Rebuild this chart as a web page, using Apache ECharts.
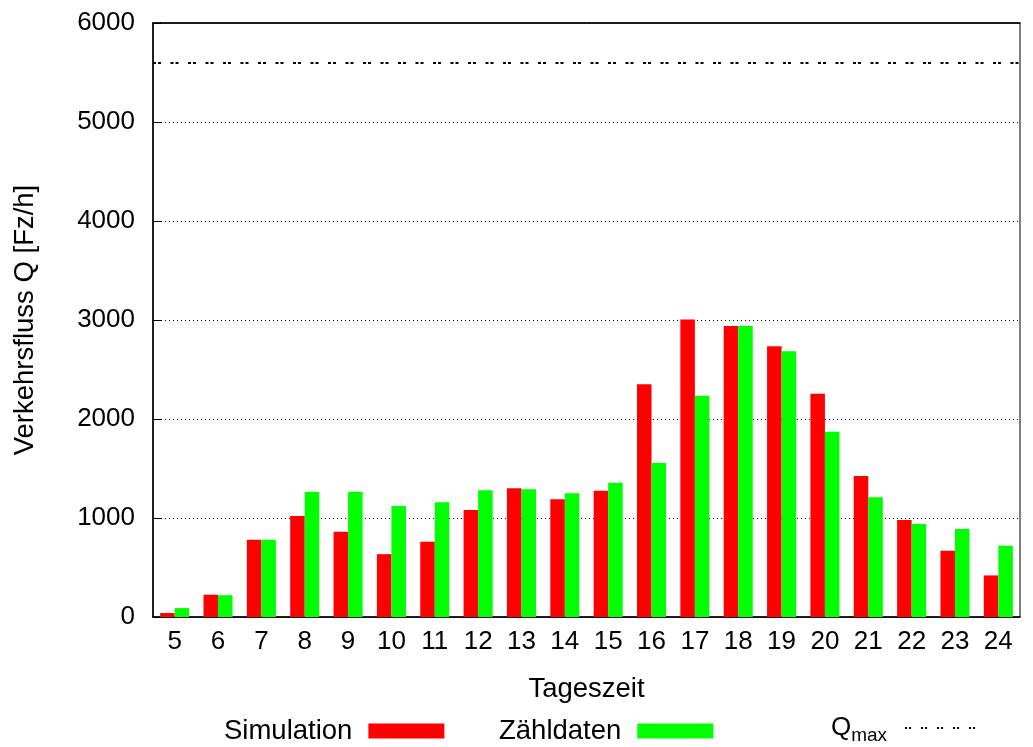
<!DOCTYPE html>
<html>
<head>
<meta charset="utf-8">
<script src="https://cdn.jsdelivr.net/npm/echarts@6/dist/echarts.min.js"></script>
<style>
  html, body { margin: 0; padding: 0; background: #fff; }
  #chart { width: 1033px; height: 747px; }
</style>
</head>
<body>
<div id="chart"></div>
<script>
// Tageszeit (Stunde)
const hours = ['5', '6', '7', '8', '9', '10', '11', '12', '13', '14',
  '15', '16', '17', '18', '19', '20', '21', '22', '23', '24']
const simulation = [40, 225, 780, 1020, 860, 635, 760, 1080, 1300, 1190,
  1275, 2350, 3005, 2940, 2735, 2255, 1425, 980, 670, 420]
const zaehldaten = [90, 220, 780, 1265, 1265, 1120, 1160, 1280, 1290, 1250,
  1355, 1555, 2235, 2940, 2685, 1870, 1210, 940, 890, 720]
const qmax = 5600

const font = 'Liberation Sans, Arial, sans-serif'
const fs = 26      // Zahlen
const fsText = 27.5 // Beschriftungen
const chart = echarts.init(document.getElementById('chart'))

const legendBase = {
  orient: 'horizontal',
  align: 'right',
  top: 717,
  padding: 0,
  itemWidth: 76,
  itemHeight: 15,
  textStyle: { fontFamily: font, fontSize: fsText, color: '#000', padding: [0, 11, 0, 0] },
  selectedMode: false
}

const option = {
  animation: false,
  backgroundColor: '#fff',
  grid: {
    left: 153, right: 13, top: 23, bottom: 130,
    show: true, borderColor: '#000', borderWidth: 1
  },
  legend: [
    Object.assign({}, legendBase, { left: 224, data: [{ name: 'Simulation', icon: 'rect' }] }),
    Object.assign({}, legendBase, { left: 499, data: [{ name: 'Zähldaten', icon: 'rect' }] }),
    Object.assign({}, legendBase, {
      left: 831, top: 715,
      itemWidth: 76,
      data: [{ name: 'Qmax', itemStyle: { color: 'rgba(0,0,0,0)', borderWidth: 0 } }],
      formatter: () => '{q|Q}{s|max}',
      textStyle: {
        fontFamily: font, color: '#000', padding: [0, 13, 0, 0],
        rich: {
          q: { fontFamily: font, fontSize: fs, color: '#000' },
          s: { fontFamily: font, fontSize: 19, color: '#000', padding: [15, 0, 0, 0] }
        }
      }
    })
  ],
  xAxis: [{
    type: 'category',
    data: hours,
    position: 'bottom',
    axisLine: { lineStyle: { color: '#000', width: 1.5 } },
    axisTick: { inside: true, alignWithLabel: true, length: 9, lineStyle: { color: '#000' } },
    axisLabel: { fontFamily: font, fontSize: fs, color: '#000', margin: 12 },
    name: 'Tageszeit',
    nameLocation: 'middle',
    nameGap: 58,
    nameTextStyle: { fontFamily: font, fontSize: fsText, color: '#000' }
  }, {
    type: 'category',
    data: hours,
    position: 'top',
    axisLine: { lineStyle: { color: '#000', width: 1.5 } },
    axisTick: { inside: true, alignWithLabel: true, length: 9, lineStyle: { color: '#000' } },
    axisLabel: { show: false }
  }],
  yAxis: {
    type: 'value',
    min: 0,
    max: 6000,
    interval: 1000,
    axisLine: { show: true, lineStyle: { color: '#000', width: 1.5 } },
    axisTick: { show: true, inside: true, length: 9, lineStyle: { color: '#000' } },
    axisLabel: { fontFamily: font, fontSize: fs, color: '#000', margin: 18, formatter: v => String(v) },
    splitLine: { show: true, lineStyle: { color: '#000', type: [1, 3], width: 1 } },
    name: 'Verkehrsfluss Q [Fz/h]',
    nameLocation: 'middle',
    nameGap: 114,
    nameTextStyle: { fontFamily: font, fontSize: fsText, color: '#000' }
  },
  series: [{
    name: 'Simulation',
    type: 'bar',
    data: simulation,
    barGap: 0,
    barCategoryGap: '33%',
    itemStyle: { color: '#ff0000' }
  }, {
    name: 'Zähldaten',
    type: 'bar',
    data: zaehldaten,
    barGap: 0,
    barCategoryGap: '33%',
    itemStyle: { color: '#00ff00' }
  }, {
    name: 'Qmax',
    type: 'line',
    data: [],
    symbol: 'none',
    lineStyle: { color: '#000', type: [2, 2, 2, 10], width: 2 },
    itemStyle: { color: '#000' },
    markLine: {
      silent: true,
      symbol: 'none',
      label: { show: false },
      lineStyle: { color: '#000', type: [3, 2, 3, 9.5], width: 2 },
      data: [{ yAxis: qmax }]
    }
  }]
}

chart.setOption(option)
</script>
</body>
</html>
